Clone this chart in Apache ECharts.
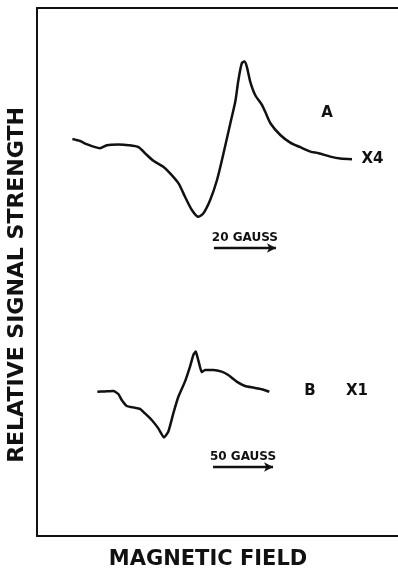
<!DOCTYPE html>
<html>
<head>
<meta charset="utf-8">
<script src="https://cdn.jsdelivr.net/npm/echarts@6/dist/echarts.min.js"></script>
<style>
  html, body { margin: 0; padding: 0; background: #fff; }
  #chart { width: 398px; height: 569px; }
</style>
</head>
<body>
<div id="chart"></div>
<script>
// Spectrum A (x4 gain): field in gauss, relative signal in arbitrary units
const fieldA = [11.4, 13.9, 16.0, 18.2, 20.3, 22.5, 26.2, 29.5, 32.7, 35.4, 37.5, 40.7, 42.9, 45.6, 47.7, 49.9, 52.0, 53.6, 55.8, 58.0,
  60.1, 62.3, 63.9, 64.9, 66.0, 66.8, 67.6, 68.7, 70.3, 72.5, 73.5, 75.2, 78.4, 81.6, 84.8, 88.1, 90.7, 94.5, 97.7, 101.5];
const signalA = [10.5, 9.5, 7.9, 6.7, 5.9, 7.4, 7.7, 7.4, 6.4, 2.5, -0.4, -3.4, -6.7, -11.7, -18.4, -25.0, -28.4, -26.7, -20.0, -10.0,
  3.4, 18.4, 29.2, 40.0, 48.4, 49.2, 46.7, 39.2, 32.5, 27.5, 24.2, 18.4, 12.5, 8.7, 6.4, 4.2, 3.4, 1.7, 0.7, 0.4];

// Spectrum B (x1 gain)
const fieldB = [50.3, 56.7, 63.6, 67.8, 70.6, 74.8, 80.3, 85.8, 90.0, 95.6, 101.1, 105.8, 109.4, 113.6, 117.8, 123.3, 127.5, 130.3,
  132.3, 133.6, 135.8, 137.3, 140.0, 146.9, 153.9, 159.4, 166.4, 173.3, 180.3, 187.3, 193.6];
const signalB = [-0.9, -0.7, -0.5, -2.0, -5.0, -8.0, -8.7, -9.4, -11.7, -15.0, -19.2, -23.7, -20.9, -11.7, -3.4, 4.2, 11.7, 17.5,
  19.2, 16.7, 11.7, 8.9, 10.0, 10.0, 9.2, 7.5, 4.2, 2.0, 1.2, 0.4, -0.9];

// Field scale bars: [start gauss, length gauss, signal level]
const scaleBarA = [57, 20, -44];
const scaleBarB = [146.7, 50, -38.5];
const scaleTextA = '20 GAUSS';
const scaleTextB = '50 GAUSS';

// Curve annotations: [field, signal, text]
const notesA = [[93.5, 23.5, 'A'], [108.1, 0.5, 'X4']];
const notesB = [[227.5, -0.5, 'B'], [266.7, -0.5, 'X1']];

const axisTitleX = 'MAGNETIC FIELD';
const axisTitleY = 'RELATIVE SIGNAL STRENGTH';

const ink = '#111';
const font = '"DejaVu Sans", "Liberation Sans", sans-serif';

const zip = (xs, ys) => xs.map((x, i) => [x, ys[i]]);

const hidden = { show: false };
const hiddenAxis = {
  axisLine: hidden, axisTick: hidden, axisLabel: hidden, splitLine: hidden
};

function scaleBar(bar, text) {
  return {
    silent: true,
    symbol: ['none', 'arrow'],
    symbolSize: [7, 9],
    lineStyle: { color: ink, width: 2.4, type: 'solid' },
    label: {
      show: true, position: 'middle', formatter: text, distance: 4,
      color: ink, fontFamily: font, fontWeight: 'bold', fontSize: 12
    },
    data: [[{ coord: [bar[0], bar[2]] }, { coord: [bar[0] + bar[1], bar[2]] }]]
  };
}

function notes(list, xi, yi, size) {
  return {
    type: 'scatter', xAxisIndex: xi, yAxisIndex: yi, symbolSize: 0, silent: true,
    itemStyle: { opacity: 1 },
    data: list.map(n => ({ value: [n[0], n[1]], name: n[2] })),
    label: {
      show: true, position: 'inside', formatter: p => p.name, opacity: 1,
      color: ink, fontFamily: font, fontWeight: 'bold', fontSize: size
    }
  };
}

const chart = echarts.init(document.getElementById('chart'), null, { renderer: 'canvas' });
chart.setOption({
  animation: false,
  backgroundColor: '#fff',
  grid: [
    { left: 37, top: 8, width: 361, height: 528 },   // frame
    { left: 37, top: 40, width: 360, height: 220 },  // spectrum A
    { left: 37, top: 330, width: 360, height: 140 }  // spectrum B
  ],
  xAxis: [
    { gridIndex: 0, type: 'value', min: 0, max: 1, position: 'bottom',
      axisLine: { show: true, onZero: false, lineStyle: { color: ink, width: 2 } },
      axisTick: hidden, axisLabel: hidden, splitLine: hidden },
    { gridIndex: 0, type: 'value', min: 0, max: 1, position: 'top',
      axisLine: { show: true, onZero: false, lineStyle: { color: ink, width: 2 } },
      axisTick: hidden, axisLabel: hidden, splitLine: hidden },
    Object.assign({ gridIndex: 1, type: 'value', min: 0, max: 116 }, hiddenAxis),
    Object.assign({ gridIndex: 2, type: 'value', min: 0, max: 300 }, hiddenAxis)
  ],
  yAxis: [
    { gridIndex: 0, type: 'value', min: 0, max: 1,
      axisLine: { show: true, onZero: false, lineStyle: { color: ink, width: 2 } },
      axisTick: hidden, axisLabel: hidden, splitLine: hidden },
    Object.assign({ gridIndex: 1, type: 'value', min: -50, max: 60 }, hiddenAxis),
    Object.assign({ gridIndex: 2, type: 'value', min: -40, max: 30 }, hiddenAxis)
  ],
  graphic: [
    { type: 'text', x: 208, y: 560,
      style: { text: axisTitleX, fill: ink, font: 'bold 21px ' + font, textAlign: 'center', textVerticalAlign: 'middle' } },
    { type: 'text', x: 17, y: 285, rotation: Math.PI / 2,
      style: { text: axisTitleY, fill: ink, font: 'bold 22px ' + font, textAlign: 'center', textVerticalAlign: 'middle' } }
  ],
  series: [
    { type: 'line', xAxisIndex: 2, yAxisIndex: 1, data: zip(fieldA, signalA),
      smooth: 0.25, showSymbol: false, silent: true,
      lineStyle: { color: ink, width: 2.5 },
      markLine: scaleBar(scaleBarA, scaleTextA) },
    { type: 'line', xAxisIndex: 3, yAxisIndex: 2, data: zip(fieldB, signalB),
      smooth: 0.15, showSymbol: false, silent: true,
      lineStyle: { color: ink, width: 2.5 },
      markLine: scaleBar(scaleBarB, scaleTextB) },
    notes(notesA, 2, 1, 15),
    notes(notesB, 3, 2, 15)
  ]
});
</script>
</body>
</html>
